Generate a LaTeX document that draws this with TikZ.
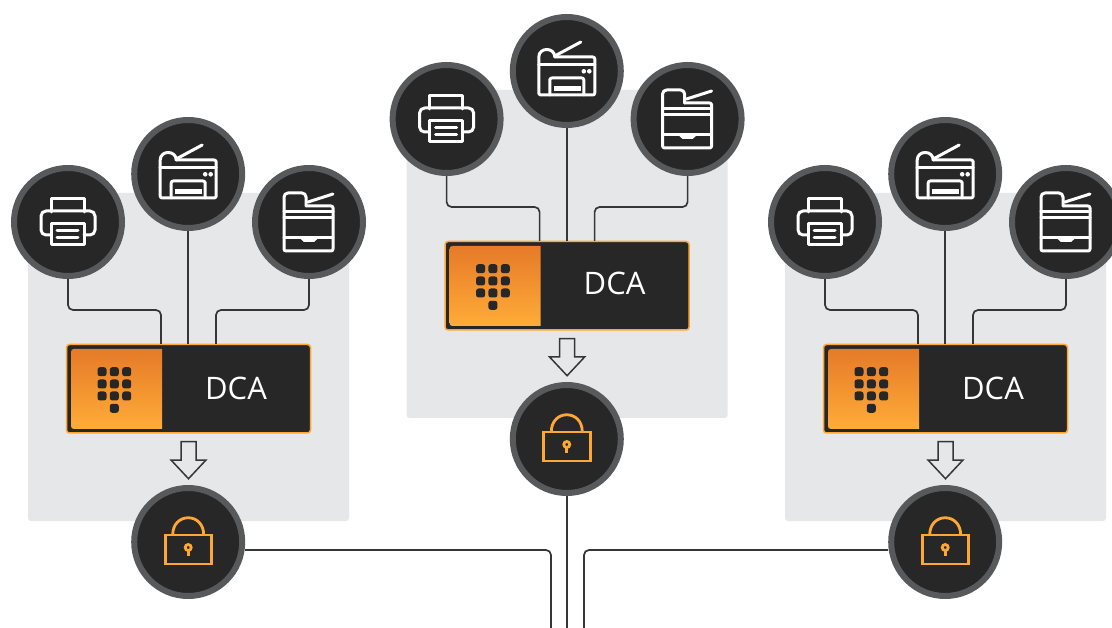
\documentclass[tikz,border=0pt]{standalone}
\usepackage{fontspec}
\setmainfont{Open Sans}
\definecolor{ink}{HTML}{272727}
\definecolor{ringc}{HTML}{58595B}
\definecolor{panelc}{HTML}{E6E7E8}
\definecolor{amber}{HTML}{FFA733}
\definecolor{orangetop}{HTML}{E67A28}
\definecolor{orangebot}{HTML}{FFAC38}
\definecolor{wirec}{HTML}{363636}
\tikzset{
  x=1pt,y=-1pt,
  badge/.style={circle,fill=ink,draw=ringc,line width=6pt,minimum size=108pt,inner sep=0pt},
  panel/.style={fill=panelc,rounded corners=3pt},
  dcabox/.style={draw=amber,fill=ink,line width=1.5pt,rounded corners=3pt},
  wire/.style={draw=wirec,line width=1.7pt,rounded corners=5pt},
  hollowarrow/.style={draw=wirec,line width=1.5pt,fill=panelc,line join=miter},
  iconw/.style={draw=white,line width=3pt,line join=round,line cap=round},
  iconlock/.style={draw=amber,line width=2.8pt,line join=miter},
  keydot/.style={fill=ink,rounded corners=2.5pt},
  dcatext/.style={text=white,font=\fontsize{31}{36}\selectfont,inner sep=0pt},
  printericon/.pic={
    \draw[iconw] (-17,-10) -- (-17,-23) -- (16,-23) -- (16,-10);
    \draw[iconw,rounded corners=5pt] (-17,13) -- (-27,13) -- (-27,-11) -- (27,-11) -- (27,13) -- (16,13);
    \draw[iconw] (-17,2) rectangle (16,23);
    \draw[iconw] (-11,9) -- (10,9) (-11,16) -- (10,16);
  },
  mfpicon/.pic={
    \draw[iconw,rounded corners=2pt] (-28,-6) -- (-28,24) -- (28,24) -- (28,-14) -- (-12,-14);
    \draw[iconw] (-28,-6) -- (28,-6);
    \draw[iconw] (-28,-6) -- (-28,-14) .. controls (-28,-24) and (-12,-24) .. (-12,-14);
    \draw[iconw] (-12,-15) -- (14,-29);
    \draw[iconw,rounded corners=2pt] (-17,24) -- (-17,7) -- (17,7) -- (17,24);
    \fill[white] (-13,15.5) rectangle (14,20);
    \fill[white] (17,0.3) circle (2.3pt) (22.5,0.3) circle (2.3pt);
  },
  copiericon/.pic={
    \draw[iconw,rounded corners=4pt] (-25,-11) -- (-25,-29) -- (-3,-29) -- (-3,-16);
    \draw[iconw] (-1,-20) -- (24,-28);
    \draw[iconw,rounded corners=2pt] (-25,-11) -- (-25,29) -- (24,29) -- (24,-16) -- (-3,-16);
    \draw[iconw] (-25,-10.5) -- (24,-10.5) (-25,-4.5) -- (24,-4.5) (-25,15.5) -- (24,15.5);
    \fill[white] (-10,15.5) -- (-5,20) -- (5,20) -- (10,15.5) -- cycle;
  },
  lockicon/.pic={
    \draw[iconlock] (-23,-7) rectangle (23.5,22);
    \draw[iconlock] (-15.5,-7) .. controls (-15.5,-30) and (15.5,-30) .. (15.5,-7);
    \draw[amber,line width=2.8pt] (0,5.5) circle (3pt);
    \draw[amber,line width=2.8pt] (0,8.5) -- (0,14);
  },
}
\newcommand{\keypad}[2]{\fill[keydot] (#1-4.5,#2-4.5) rectangle (#1+4.5,#2+4.5);}
\newcommand{\dcagroup}[4]{%
\begin{scope}[shift={(#2,#3)}]
  \fill[panel] (28,193) rectangle (349,521);
  \draw[dcabox] (66.5,344.5) rectangle (310.5,433);
  \coordinate (#1boxw) at (161,344);
  \coordinate (#1boxm) at (188.2,344);
  \coordinate (#1boxe) at (216,344);
  \shade[top color=orangetop,bottom color=orangebot]
     (162,349) -- (74,349) .. controls (72,349) and (71,350) .. (71,352) -- (71,426) .. controls (71,428) and (72,429) .. (74,429) -- (162,429) -- cycle;
  \foreach \kx in {102,114.3,126.7} \foreach \ky in {371.7,384,396} {\keypad{\kx}{\ky}}
  \keypad{114.3}{408.3}
  \node[dcatext] (#1label) at (236,#4) {DCA};
  \node[badge] (#1print) at (68,222) {};
  \node[badge] (#1mfp) at (188.2,174) {};
  \node[badge] (#1copy) at (309,222) {};
  \node[badge] (#1lock) at (188.2,542) {};
  \pic at (#1print) {printericon};
  \pic at (#1mfp) {mfpicon};
  \pic at (#1copy) {copiericon};
  \pic at (#1lock) {lockicon};
  \draw[wire] (#1print.south) -- ++(0,31) -| (#1boxw);
  \draw[wire] (#1mfp.south) -- (#1boxm);
  \draw[wire] (#1copy.south) -- ++(0,31) -| (#1boxe);
  \draw[hollowarrow] (181,441.7) -- (196,441.7) -- (196,460) -- (206,460) -- (188.5,478.7) -- (171,460) -- (181,460) -- cycle;
\end{scope}}
\begin{document}
\begin{tikzpicture}
\useasboundingbox (0,0) rectangle (1112,628);
\clip (0,0) rectangle (1112,628);
\fill[white] (0,0) rectangle (1112,628);
\coordinate (endl) at (551,628);
\coordinate (endm) at (566.8,628);
\coordinate (endr) at (584,628);
\dcagroup{a}{0}{0}{388.5}
\dcagroup{b}{378.6}{-103}{386}
\dcagroup{c}{757}{0}{388.5}
\draw[wire] (alock.east |- 0,550) -- (551,550) -- (endl);
\draw[wire] (clock.west |- 0,550) -- (584,550) -- (endr);
\draw[wire] (block.south) -- (endm);
\end{tikzpicture}
\end{document}
